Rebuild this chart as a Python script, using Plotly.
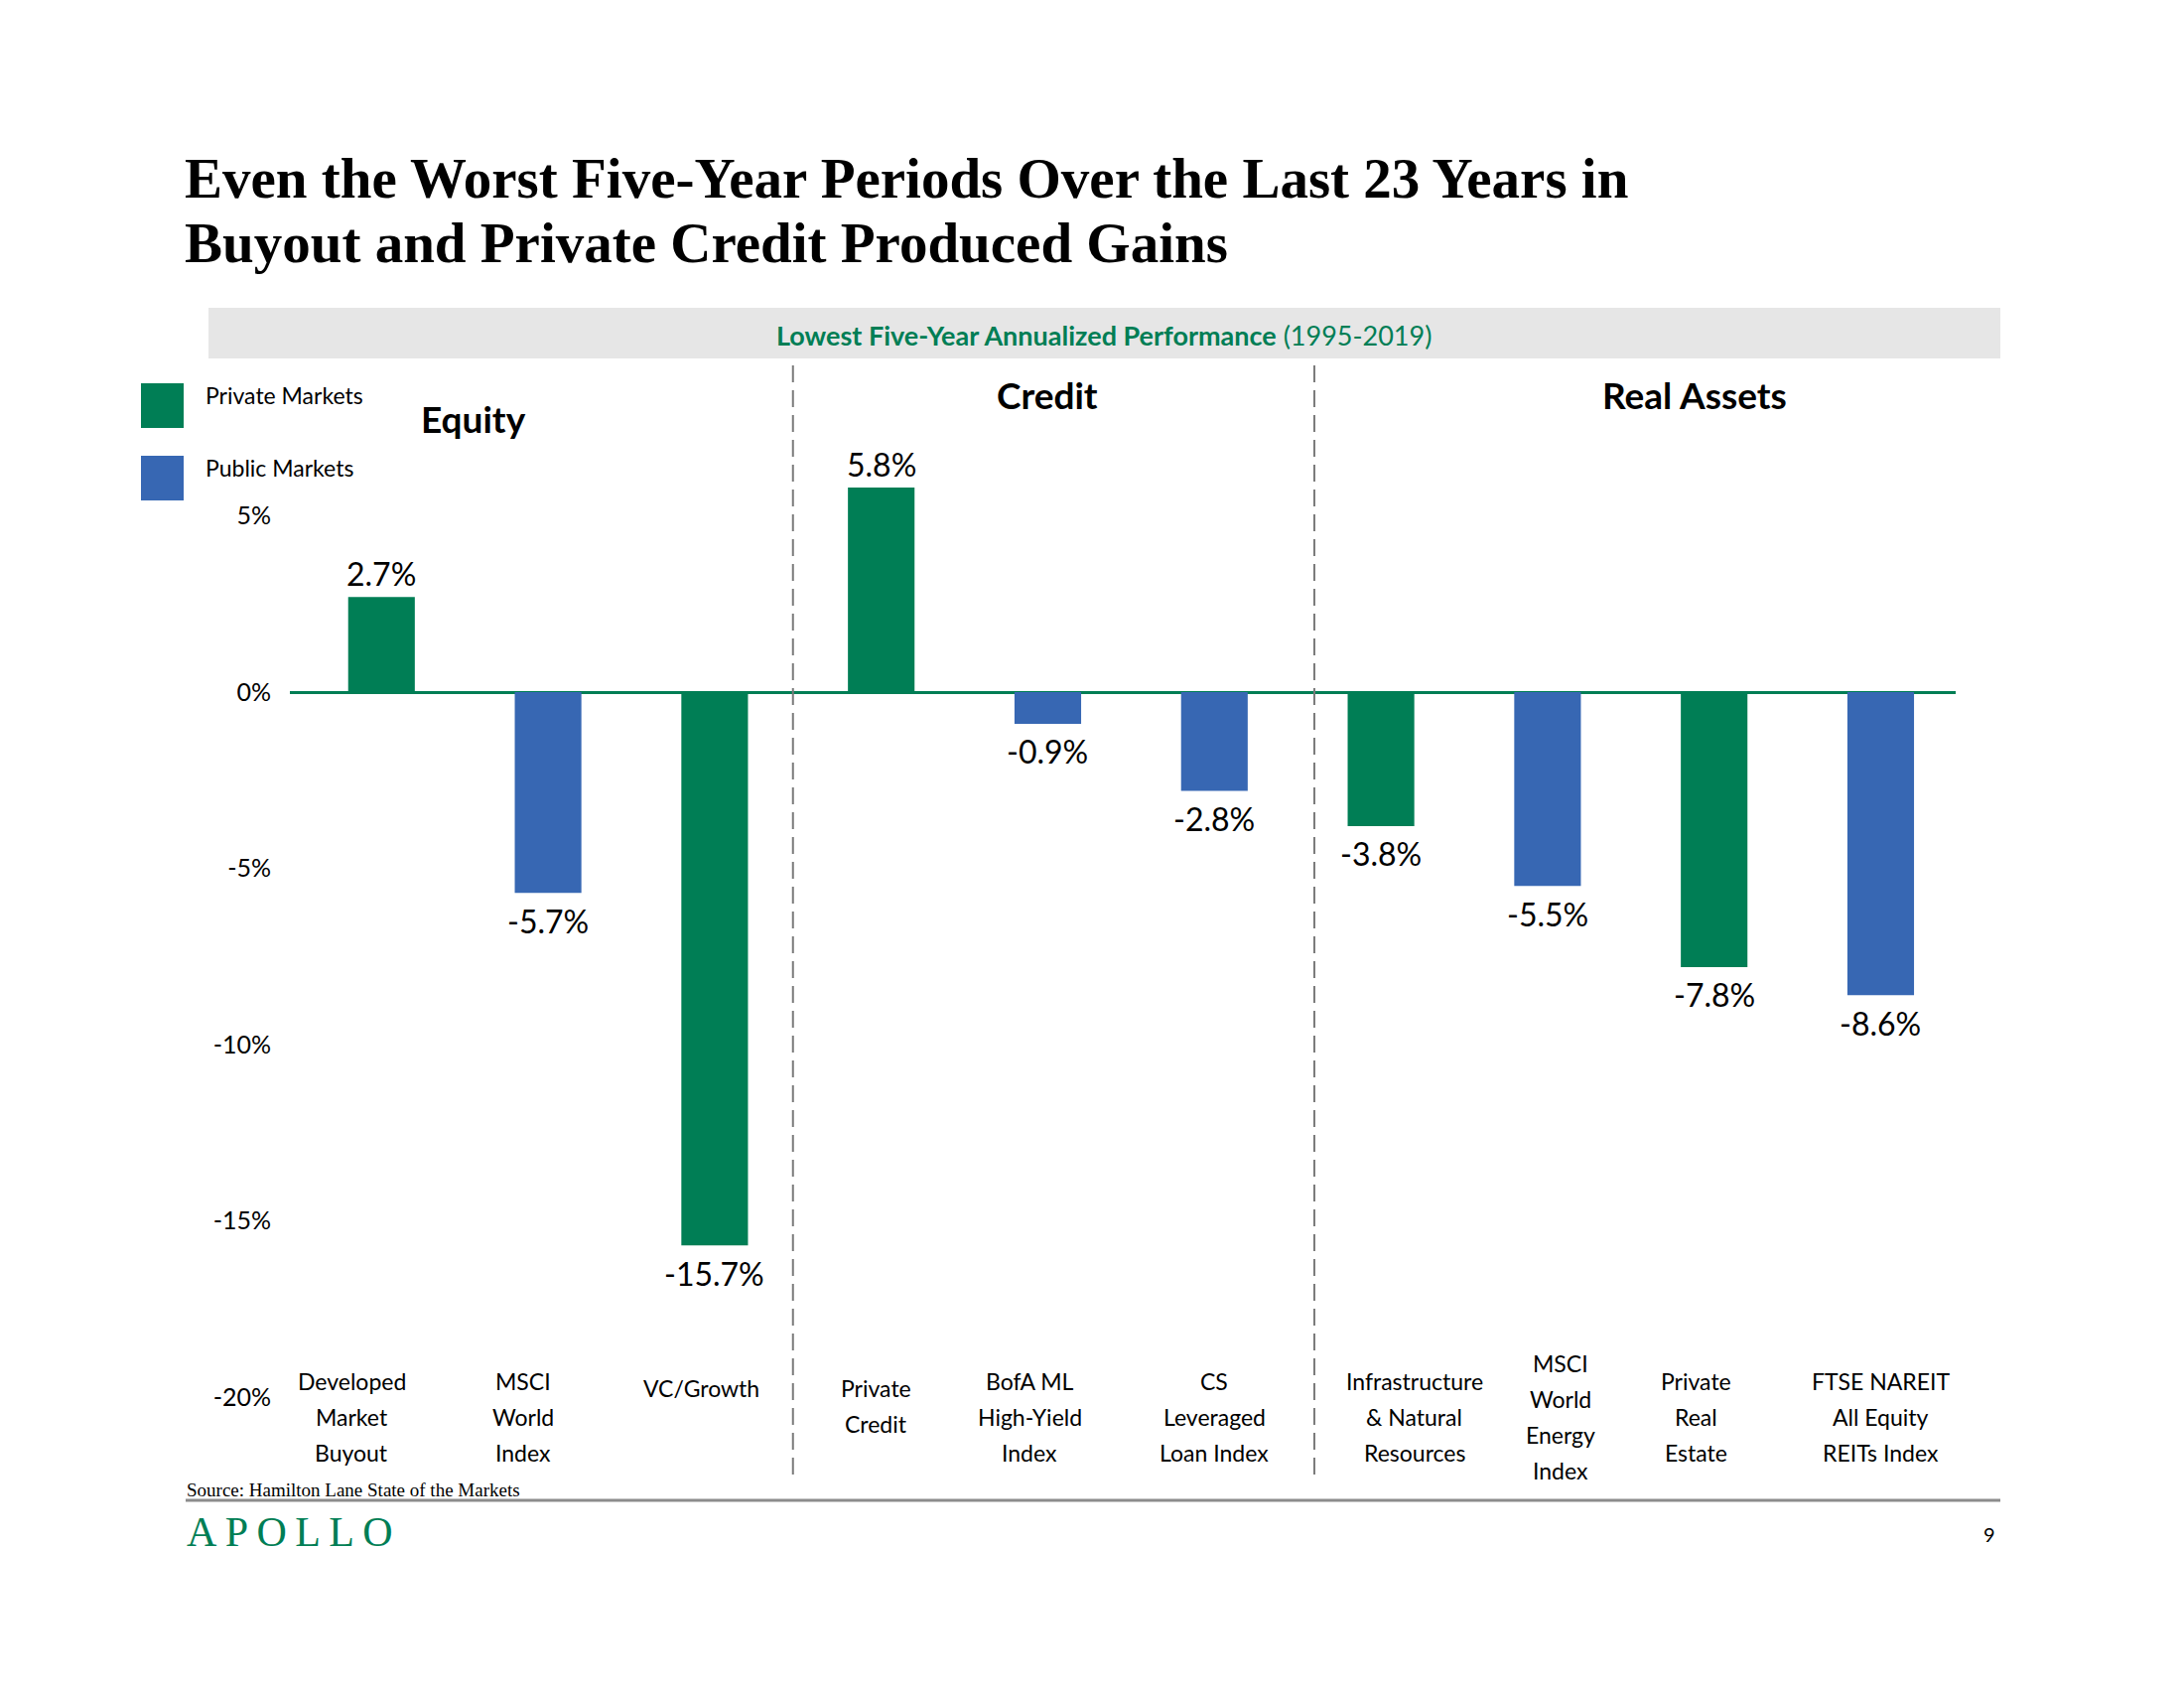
import plotly.graph_objects as go

# ---------------- data ----------------
categories = [
    "Developed<br>Market<br>Buyout",
    "MSCI<br>World<br>Index",
    "VC/Growth",
    "Private<br>Credit",
    "BofA ML<br>High-Yield<br>Index",
    "CS<br>Leveraged<br>Loan Index",
    "Infrastructure<br>& Natural<br>Resources",
    "MSCI<br>World<br>Energy<br>Index",
    "Private<br>Real<br>Estate",
    "FTSE NAREIT<br>All Equity<br>REITs Index",
]
values = [2.7, -5.7, -15.7, 5.8, -0.9, -2.8, -3.8, -5.5, -7.8, -8.6]
market_type = ["Private Markets", "Public Markets", "Private Markets", "Private Markets",
               "Public Markets", "Public Markets", "Private Markets", "Public Markets",
               "Private Markets", "Public Markets"]
series_names = ["Private Markets", "Public Markets"]
sections = ["Equity", "Credit", "Real Assets"]
y_ticks = [5, 0, -5, -10, -15, -20]
y_tick_labels = ["5%", "0%", "-5%", "-10%", "-15%", "-20%"]

title_lines = ["Even the Worst Five-Year Periods Over the Last 23 Years in",
               "Buyout and Private Credit Produced Gains"]
band_bold = "Lowest Five-Year Annualized Performance"
band_rest = "(1995-2019)"
source = "Source: Hamilton Lane State of the Markets"

# ---------------- style / layout ----------------
GREEN = "#007E55"
BLUE = "#3767B3"
colors = {"Private Markets": GREEN, "Public Markets": BLUE}
SANS = "Lato, 'Open Sans', sans-serif"
SERIF = "'Liberation Serif', 'DejaVu Serif', serif"

# horizontal nudges of the category text boxes (in category widths), as on the slide
label_dx = [-0.18, -0.15, -0.08, -0.03, -0.11, 0.0, 0.2, 0.08, -0.11, 0.0]

W, H = 2200, 1700
OFF = 8  # page body margin
L, R, T, B = 292 - OFF, 1970 - OFF, 380 - OFF, 1490 - OFF
ZERO_PX, PX_PER_PCT = 697 - OFF, 35.5
y_top = (ZERO_PX - T) / PX_PER_PCT
y_bot = -(B - ZERO_PX) / PX_PER_PCT


def pxx(x):
    return (x - OFF - L) / (R - L)


def pxy(y):
    return (B - (y - OFF)) / (B - T)


fig = go.Figure()
for name in series_names:
    xs = [c for c, m in zip(categories, market_type) if m == name]
    ys = [v for v, m in zip(values, market_type) if m == name]
    fig.add_trace(go.Bar(x=xs, y=ys, name=name, marker_color=colors[name],
                         marker_line_width=0, width=0.4, showlegend=False))

ann = []
shapes = []

# data labels
for c, v in zip(categories, values):
    ann.append(dict(x=c, y=v, xref="x", yref="y", text=f"{v:.1f}%", showarrow=False,
                    yanchor="middle", yshift=24 if v >= 0 else -28,
                    font=dict(family=SANS, size=32, color="#000")))

# category labels (line by line for slide-like line spacing)
LINE = 36
for idx, c in enumerate(categories):
    lines = c.split("<br>")
    n = len(lines)
    first = min(1398, 1427 - (n - 1) / 2 * LINE)
    for i, ln in enumerate(lines):
        ann.append(dict(x=idx + label_dx[idx], y=pxy(first + i * LINE), xref="x",
                        yref="paper", text=ln, showarrow=False, yanchor="middle",
                        font=dict(family=SANS, size=23, color="#000")))

# section headers
section_pos = [(0.55, 422), (4.0, 398), (7.88, 398)]
for s, (sx, sy) in zip(sections, section_pos):
    ann.append(dict(x=sx, y=pxy(sy), xref="x", yref="paper", text=f"<b>{s}</b>",
                    showarrow=False, yanchor="middle",
                    font=dict(family=SANS, size=37, color="#000")))

# section separators
for xs in [2.47, 5.6]:
    shapes.append(dict(type="line", xref="x", yref="paper", x0=xs, x1=xs,
                       y0=pxy(368), y1=pxy(1487),
                       line=dict(color="#7A7A7A", width=2, dash="17px,8px")))

# band
shapes.append(dict(type="rect", xref="paper", yref="paper", x0=pxx(210), x1=pxx(2015),
                   y0=pxy(361), y1=pxy(310), fillcolor="#E6E6E6", line_width=0, layer="below"))
ann.append(dict(x=pxx(1112), y=pxy(338), xref="paper", yref="paper", showarrow=False,
                text=f"<b>{band_bold}</b> {band_rest}", yanchor="middle",
                font=dict(family=SANS, size=27, color=GREEN)))

# legend
for i, name in enumerate(series_names):
    y0 = 386 + i * 73
    shapes.append(dict(type="rect", xref="paper", yref="paper", x0=pxx(142), x1=pxx(185),
                       y0=pxy(y0 + 45), y1=pxy(y0), fillcolor=colors[name], line_width=0))
    ann.append(dict(x=pxx(205), y=pxy(y0 + 12), xref="paper", yref="paper", text=name,
                    showarrow=False, xanchor="left", yanchor="middle",
                    font=dict(family=SANS, size=23, color="#000")))

# title
for i, t in enumerate(title_lines):
    ann.append(dict(x=pxx(185), y=pxy(212 + i * 65), xref="paper", yref="paper",
                    text=f"<b>{t}</b>", showarrow=False, xanchor="left", yanchor="bottom",
                    borderpad=0, font=dict(family=SERIF, size=57, color="#000")))

# footer
ann.append(dict(x=pxx(186), y=pxy(1513), xref="paper", yref="paper", text=source,
                showarrow=False, xanchor="left", yanchor="bottom",
                font=dict(family=SERIF, size=19, color="#000")))
shapes.append(dict(type="line", xref="paper", yref="paper", x0=pxx(187), x1=pxx(2015),
                   y0=pxy(1511), y1=pxy(1511), line=dict(color="#8C8C8C", width=3)))
ann.append(dict(x=pxx(186), y=pxy(1543), xref="paper", yref="paper",
                text="A\u2009P\u2009O\u2009L\u2009L\u2009O", showarrow=False,
                xanchor="left", yanchor="middle",
                font=dict(family=SERIF, size=42, color=GREEN)))
ann.append(dict(x=pxx(2012), y=pxy(1545), xref="paper", yref="paper", text="9",
                showarrow=False, xanchor="right", yanchor="middle",
                font=dict(family=SANS, size=20, color="#000")))

fig.update_layout(
    width=W, height=H,
    margin=dict(l=L, r=W - R, t=T, b=H - B, pad=0),
    paper_bgcolor="white", plot_bgcolor="white",
    barmode="overlay",
    showlegend=False,
    annotations=ann, shapes=shapes,
    xaxis=dict(type="category", categoryorder="array", categoryarray=categories,
               range=[-0.55, 9.45], showticklabels=False, showgrid=False,
               zeroline=False, showline=False, ticks=""),
    yaxis=dict(range=[y_bot, y_top], tickvals=y_ticks, ticktext=y_tick_labels,
               showgrid=False, zeroline=True, zerolinecolor=GREEN, zerolinewidth=2.5,
               showline=False, ticks="", ticklabelstandoff=18,
               tickfont=dict(family=SANS, size=25, color="#000")),
)

fig.write_html("out.html")
